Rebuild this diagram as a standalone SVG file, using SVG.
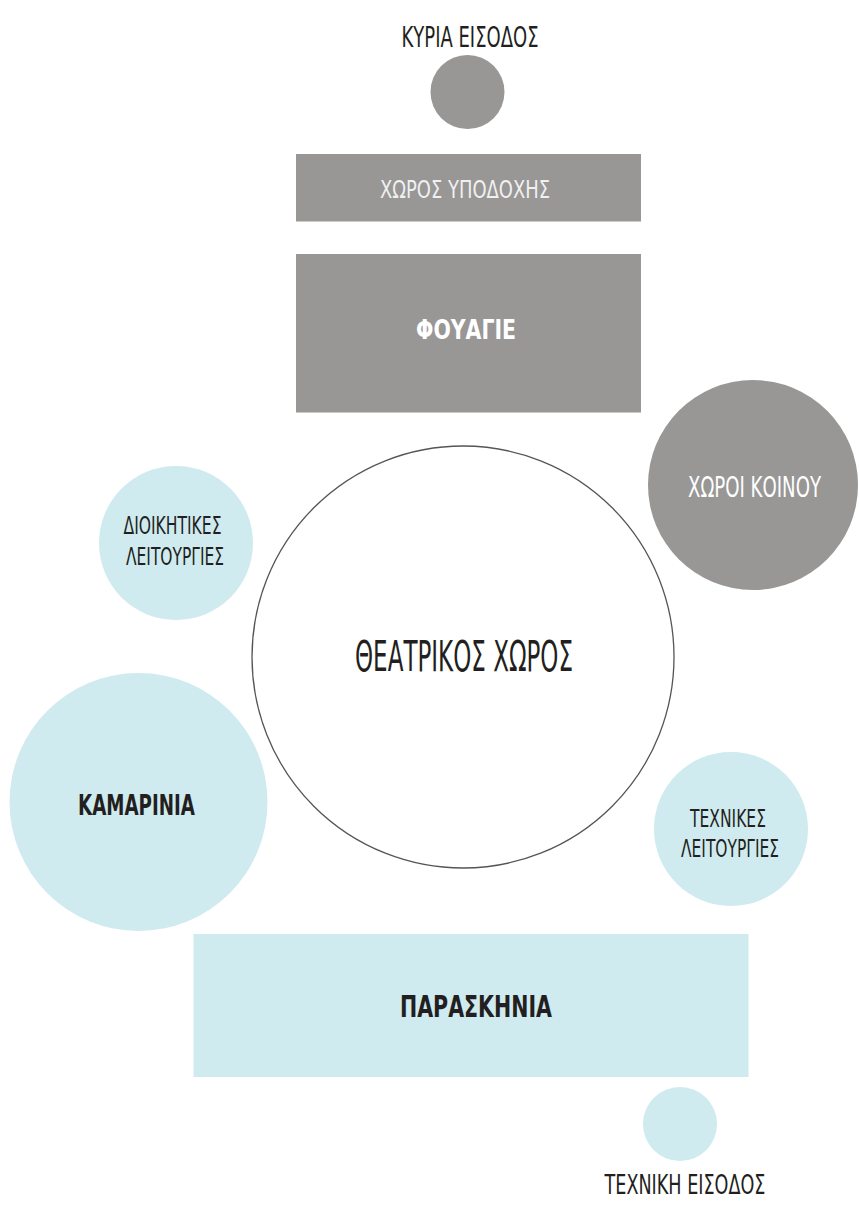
<svg xmlns="http://www.w3.org/2000/svg" width="859" height="1213" viewBox="0 0 859 1213">
<style>
text{font-family:"Liberation Sans Narrow","DejaVu Sans Condensed","Liberation Sans",sans-serif;text-anchor:middle;}
.gray{fill:#989796;}
.blue{fill:#cfebf0;}
.dark{fill:#231f20;}
.light{fill:#ffffff;}
.b{font-weight:bold;}
</style>
<rect width="859" height="1213" fill="#ffffff"/>
<g id="connectors"></g>
<g id="main-entrance">
<text class="dark" x="470" y="47" font-size="29" textLength="137" lengthAdjust="spacingAndGlyphs">ΚΥΡΙΑ ΕΙΣΟΔΟΣ</text>
<circle class="gray" cx="467.5" cy="92" r="37"/>
</g>
<g id="reception">
<rect class="gray" x="296" y="154" width="345" height="67.5"/>
<text fill="#f0f0f0" x="465" y="198" font-size="25.5" textLength="170" lengthAdjust="spacingAndGlyphs">ΧΩΡΟΣ ΥΠΟΔΟΧΗΣ</text>
</g>
<g id="foyer">
<rect class="gray" x="296" y="254" width="345" height="158.5"/>
<text class="light b" x="466" y="339" font-size="27" textLength="100" lengthAdjust="spacingAndGlyphs">ΦΟΥΑΓΙΕ</text>
</g>
<g id="public-spaces">
<circle class="gray" cx="753" cy="485" r="105"/>
<text class="light" x="754.5" y="497" font-size="28" textLength="133" lengthAdjust="spacingAndGlyphs">ΧΩΡΟΙ ΚΟΙΝΟΥ</text>
</g>
<g id="admin">
<circle class="blue" cx="176" cy="543" r="77"/>
<text class="dark" x="172.5" y="534" font-size="24" textLength="98" lengthAdjust="spacingAndGlyphs">ΔΙΟΙΚΗΤΙΚΕΣ</text>
<text class="dark" x="175" y="565" font-size="24" textLength="98" lengthAdjust="spacingAndGlyphs">ΛΕΙΤΟΥΡΓΙΕΣ</text>
</g>
<g id="theatre">
<circle cx="463" cy="657" r="211" fill="#ffffff" stroke="#555555" stroke-width="1.3"/>
<text class="dark" x="464" y="671" font-size="43" textLength="218" lengthAdjust="spacingAndGlyphs">ΘΕΑΤΡΙΚΟΣ ΧΩΡΟΣ</text>
</g>
<g id="dressing-rooms">
<circle class="blue" cx="138.5" cy="802" r="129"/>
<text class="dark b" x="136.5" y="815" font-size="28" textLength="117" lengthAdjust="spacingAndGlyphs">ΚΑΜΑΡΙΝΙΑ</text>
</g>
<g id="technical">
<circle class="blue" cx="731" cy="829" r="77"/>
<text class="dark" x="728" y="827" font-size="24" textLength="76" lengthAdjust="spacingAndGlyphs">ΤΕΧΝΙΚΕΣ</text>
<text class="dark" x="730" y="857" font-size="24" textLength="98" lengthAdjust="spacingAndGlyphs">ΛΕΙΤΟΥΡΓΙΕΣ</text>
</g>
<g id="backstage">
<rect class="blue" x="193.5" y="934" width="555" height="143"/>
<text class="dark b" x="476" y="1017" font-size="30" textLength="152" lengthAdjust="spacingAndGlyphs">ΠΑΡΑΣΚΗΝΙΑ</text>
</g>
<g id="technical-entrance">
<circle class="blue" cx="680" cy="1124" r="37"/>
<text class="dark" x="685" y="1194" font-size="27" textLength="161" lengthAdjust="spacingAndGlyphs">ΤΕΧΝΙΚΗ ΕΙΣΟΔΟΣ</text>
</g>
</svg>
